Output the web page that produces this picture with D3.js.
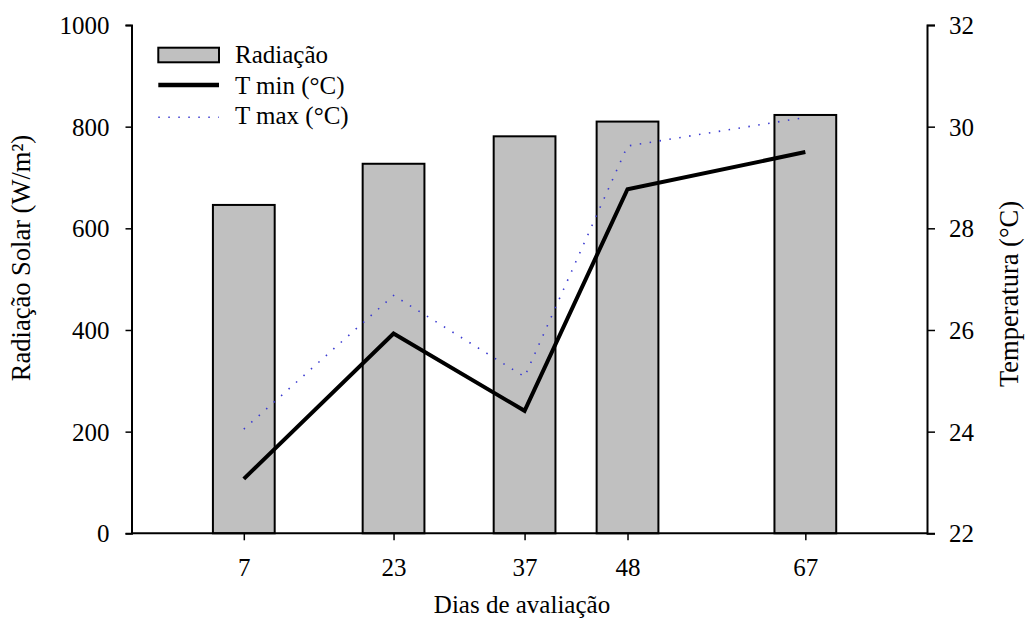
<!DOCTYPE html>
<html>
<head>
<meta charset="utf-8">
<script src="https://cdn.jsdelivr.net/npm/d3@7"></script>
<style>
  html, body { margin: 0; padding: 0; background: #fff; }
  svg { display: block; }
</style>
</head>
<body>
<svg id="chart" width="1027" height="624"></svg>
<script>
// Evaluation days (x positions)
const days = [7, 23, 37, 48, 67];
// Solar radiation (W/m²), bars on left axis
const radiacao = [646, 727, 781, 810, 823];
// Minimum and maximum temperature (°C), lines on right axis
const tMin = [23.07, 25.93, 24.41, 28.77, 29.50];
const tMax = [24.05, 26.68, 25.08, 29.62, 30.18];
// Tick labels
const leftTicks = [0, 200, 400, 600, 800, 1000];
const rightTicks = [22, 24, 26, 28, 30, 32];

const FONT = '"Liberation Serif"';
const fontSize = 25;
const titleSize = 26.5;
const svg = d3.select("#chart");
const m = { left: 131.5, right: 927, top: 25, bottom: 533.3 };

const x = d3.scaleLinear().domain([-5, 80]).range([m.left, m.right]);
const yL = d3.scaleLinear().domain([0, 1000]).range([m.bottom, m.top]);
const yR = d3.scaleLinear().domain([22, 32]).range([m.bottom, m.top]);
const barW = 6.6; // bar width in days

function serif(sel, size = fontSize) {
  return sel.style("font-family", FONT).style("font-size", size + "px").attr("fill", "#000");
}

// Bars
svg.append("g").selectAll("rect")
  .data(days)
  .join("rect")
  .attr("x", (d) => x(d - barW / 2))
  .attr("width", x(barW) - x(0))
  .attr("y", (d, i) => yL(radiacao[i]))
  .attr("height", (d, i) => yL(0) - yL(radiacao[i]))
  .attr("fill", "#c0c0c0")
  .attr("stroke", "#000")
  .attr("stroke-width", 2);

// Lines
const line = d3.line().x((d, i) => x(days[i])).y((d) => yR(d));
svg.append("path")
  .datum(tMax)
  .attr("d", line)
  .attr("fill", "none")
  .attr("stroke", "#3a3ad0")
  .attr("stroke-width", 1.6)
  .attr("stroke-dasharray", "1.5,8.5");
svg.append("path")
  .datum(tMin)
  .attr("d", line)
  .attr("fill", "none")
  .attr("stroke", "#000")
  .attr("stroke-width", 4)
  .attr("stroke-linejoin", "miter");

// Axes
function styleAxis(g) {
  g.selectAll("path").attr("stroke", "#000").attr("stroke-width", 2);
  g.selectAll("line").attr("stroke", "#000").attr("stroke-width", 1.5);
  g.selectAll("text").call(serif);
}

svg.append("g")
  .attr("transform", `translate(${m.left},0)`)
  .call(d3.axisLeft(yL).tickValues(leftTicks).tickFormat(d3.format("d"))
    .tickSize(6).tickSizeOuter(6).tickPadding(16))
  .call(styleAxis)
  .call((g) => g.selectAll("text").attr("dy", "0.34em"));

svg.append("g")
  .attr("transform", `translate(${m.right},0)`)
  .call(d3.axisRight(yR).tickValues(rightTicks).tickFormat(d3.format("d"))
    .tickSize(8).tickSizeOuter(8).tickPadding(14))
  .call(styleAxis)
  .call((g) => g.selectAll("text").attr("dy", "0.34em"));

svg.append("g")
  .attr("transform", `translate(0,${m.bottom})`)
  .call(d3.axisBottom(x).tickValues(days).tickFormat(d3.format("d"))
    .tickSize(7).tickSizeOuter(0).tickPadding(18))
  .call(styleAxis)
  .call((g) => g.select(".domain").attr("d", `M${m.left},0H${m.right}`));

// Axis titles
svg.append("text")
  .attr("transform", "translate(30,258) rotate(-90)")
  .attr("text-anchor", "middle")
  .call(serif, titleSize)
  .text("Radiação Solar (W/m²)");

svg.append("text")
  .attr("transform", "translate(1018,294) rotate(-90)")
  .attr("text-anchor", "middle")
  .call(serif, titleSize)
  .text("Temperatura (°C)");

svg.append("text")
  .attr("x", 522)
  .attr("y", 613)
  .attr("text-anchor", "middle")
  .call(serif)
  .text("Dias de avaliação");

// Legend
const leg = svg.append("g");
const lx0 = 158.3, lx1 = 219, ltx = 235;
leg.append("rect")
  .attr("x", lx0).attr("y", 47.7)
  .attr("width", lx1 - lx0).attr("height", 14.6)
  .attr("fill", "#c0c0c0").attr("stroke", "#000").attr("stroke-width", 2);
leg.append("line")
  .attr("x1", lx0).attr("x2", lx1).attr("y1", 85).attr("y2", 85)
  .attr("stroke", "#000").attr("stroke-width", 4.5);
leg.append("line")
  .attr("x1", lx0).attr("x2", lx1).attr("y1", 117.3).attr("y2", 117.3)
  .attr("stroke", "#3a3ad0").attr("stroke-width", 1.6)
  .attr("stroke-dasharray", "1.5,8.5");
const legendLabels = ["Radiação", "T min (°C)", "T max (°C)"];
const legendY = [63.3, 93.5, 124];
leg.selectAll("text.lg")
  .data(legendLabels)
  .join("text")
  .attr("class", "lg")
  .attr("x", ltx)
  .attr("y", (d, i) => legendY[i])
  .call(serif)
  .text((d) => d);
</script>
</body>
</html>
